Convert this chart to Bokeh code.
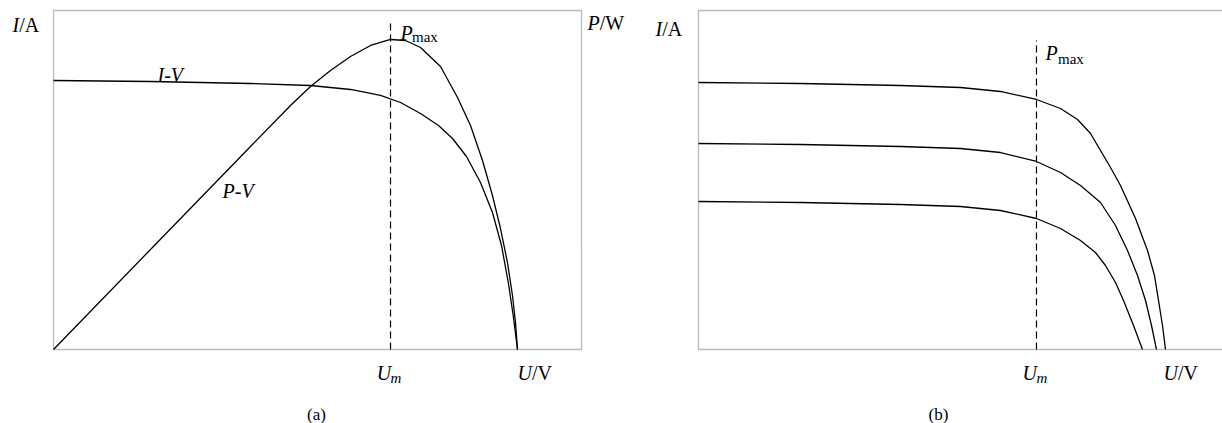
from bokeh.plotting import figure
from bokeh.models import Range1d, Label, BoxAnnotation
from bokeh.layouts import row
from bokeh.embed import file_html
from bokeh.resources import INLINE

# ---------------- data (normalised 0-100 units) ----------------
# panel (a): I-V curve
iv_u = [0, 18.37, 37.31, 48.67, 56.25, 61.93, 65.72, 69.51, 72.92, 75.57, 78.22,
        80.87, 83.14, 84.85, 86.17, 87.12, 87.88]
iv_i = [79.35, 79.06, 78.47, 77.88, 76.70, 74.93, 72.86, 69.62, 66.08, 62.24, 56.93,
        49.26, 40.41, 30.68, 19.47, 9.44, 0]
# panel (a): P-V curve
pv_u = [0, 18.37, 37.31, 44.89, 48.67, 52.46, 56.25, 60.04, 63.83, 66.67, 69.51,
        73.30, 76.52, 78.98, 81.25, 83.14, 84.66, 85.98, 86.93, 87.50, 87.88]
pv_p = [0, 29.50, 59.88, 71.98, 77.58, 82.30, 86.43, 89.68, 91.45, 91.15, 89.09,
        83.48, 74.34, 66.08, 55.75, 45.43, 35.69, 25.66, 15.93, 7.96, 0]
um_a = [63.83]
dash_top_a = [96.46]

# panel (b): three I-V curves (decreasing irradiance)
b1_u = [0, 19.47, 38.55, 50.00, 57.63, 64.50, 69.08, 72.33, 74.81, 76.72, 78.63,
        80.53, 83.40, 85.69, 87.02, 87.79, 88.55, 89.12]
b1_i = [78.76, 78.47, 77.88, 77.29, 76.11, 73.75, 71.09, 67.85, 63.72, 58.70, 53.69,
        48.38, 38.64, 29.20, 21.83, 14.45, 7.08, 0]
b2_u = [0, 19.47, 38.55, 50.00, 57.63, 64.50, 69.08, 72.90, 76.72, 79.58, 81.87,
        83.78, 85.31, 86.45, 87.40]
b2_i = [60.77, 60.47, 59.88, 59.29, 58.11, 55.46, 52.21, 48.38, 43.36, 36.58, 29.20,
        21.83, 14.45, 7.08, 0]
b3_u = [0, 19.47, 38.55, 50.00, 57.63, 64.50, 69.08, 72.90, 75.76, 77.67, 79.58,
        81.11, 83.02, 84.73]
b3_i = [43.66, 43.36, 42.77, 42.18, 41.00, 38.64, 35.69, 32.15, 28.61, 24.78, 19.76,
        14.45, 7.08, 0]
um_b = [64.50]
dash_top_b = [91.15]

FONT = "Liberation Serif"
BIG = "20px"
SMALL = "15px"
LW = 1.3
EDGE = "#222222"


def make_fig(width, x0, x1):
    p = figure(x_range=Range1d(x0, x1), y_range=Range1d(-21.83, 102.95),
               frame_width=width, frame_height=423,
               min_border_left=0, min_border_right=0,
               min_border_top=0, min_border_bottom=0,
               output_backend="svg", toolbar_location=None)
    p.axis.visible = False
    p.grid.visible = False
    p.outline_line_color = None
    p.background_fill_color = "white"
    p.border_fill_color = "white"
    return p


def lab(p, x, y, t, size=BIG, style="normal", align="left"):
    p.add_layout(Label(x=x, y=y, text=t, text_font=FONT, text_font_size=size,
                       text_font_style=style, text_color="black",
                       text_align=align, text_baseline="alphabetic"))


# ---------------- panel (a) ----------------
pa = make_fig(650, -10.04, 113.07)
pa.add_layout(BoxAnnotation(left=0, right=100, bottom=0, top=100, fill_alpha=0,
                            line_color=EDGE, line_width=1.3))
pa.line(iv_u, iv_i, line_color="black", line_width=LW)
pa.line(pv_u, pv_p, line_color="black", line_width=LW)
pa.segment(x0=um_a, y0=[0], x1=um_a, y1=dash_top_a, line_color="black",
           line_width=1.2, line_dash="7 4")

lab(pa, -7.77, 95.58, "I", style="italic")
lab(pa, -6.50, 95.58, "/A")
lab(pa, 101.14, 96.17, "P", style="italic")
lab(pa, 103.45, 96.17, "/W")
lab(pa, 65.72, 93.22, "P", style="italic")
lab(pa, 67.90, 92.04, "max", size=SMALL)
lab(pa, 19.70, 81.12, "I-V", style="italic")
lab(pa, 32.01, 46.61, "P-V", style="italic")
lab(pa, 61.20, -7.08, "U", style="italic")
lab(pa, 63.83, -8.55, "m", size=SMALL, style="italic")
lab(pa, 87.88, -7.08, "U", style="italic")
lab(pa, 90.61, -7.08, "/V")
lab(pa, 49.81, -19.17, "(a)", size="17px", align="center")

# ---------------- panel (b) ----------------
pb = make_fig(572, -9.16, 100.0)
pb.add_layout(BoxAnnotation(left=0, right=150, bottom=0, top=100, fill_alpha=0,
                            line_color=EDGE, line_width=1.3))
pb.line(b1_u, b1_i, line_color="black", line_width=LW)
pb.line(b2_u, b2_i, line_color="black", line_width=LW)
pb.line(b3_u, b3_i, line_color="black", line_width=LW)
pb.segment(x0=um_b, y0=[0], x1=um_b, y1=dash_top_b, line_color="black",
           line_width=1.2, line_dash="7 4")

lab(pb, -8.21, 94.40, "I", style="italic")
lab(pb, -6.93, 94.40, "/A")
lab(pb, 66.22, 87.32, "P", style="italic")
lab(pb, 68.60, 85.84, "max", size=SMALL)
lab(pb, 61.85, -7.08, "U", style="italic")
lab(pb, 64.50, -8.55, "m", size=SMALL, style="italic")
lab(pb, 88.74, -7.08, "U", style="italic")
lab(pb, 91.49, -7.08, "/V")
lab(pb, 45.80, -19.17, "(b)", size="17px", align="center")

layout = row(pa, pb)
open("out.html", "w").write(file_html(layout, INLINE))
